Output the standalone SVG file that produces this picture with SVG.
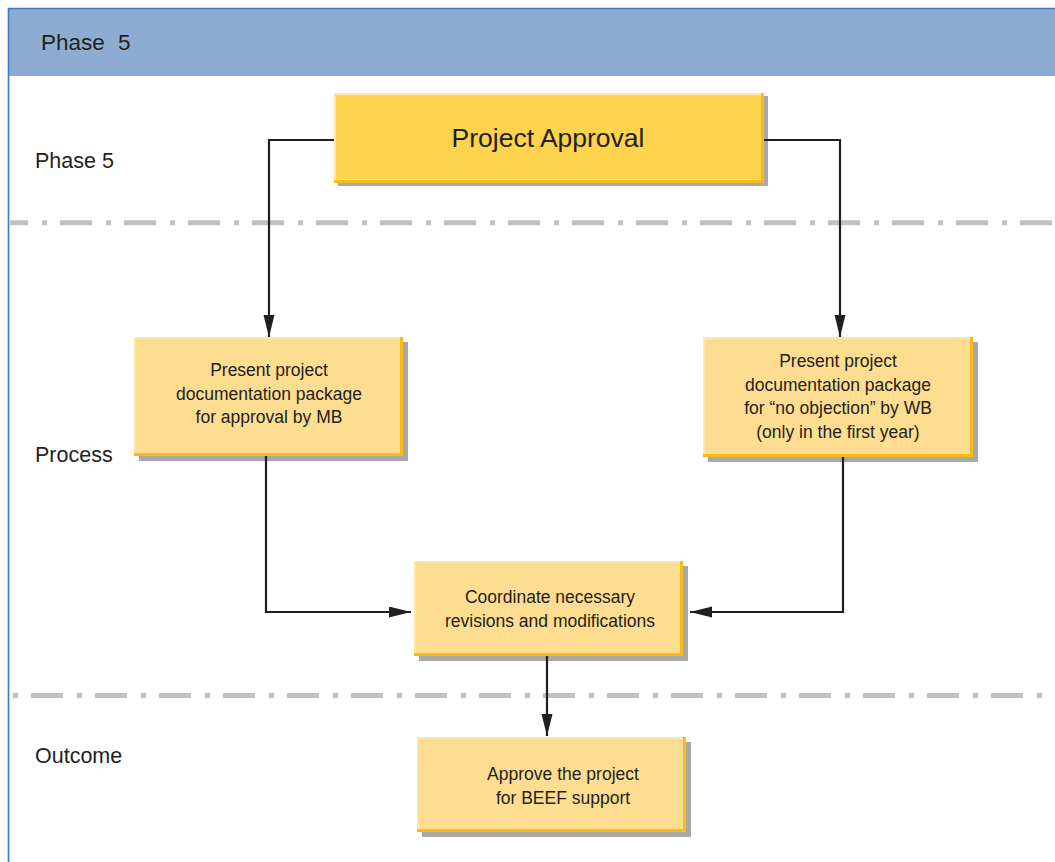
<svg xmlns="http://www.w3.org/2000/svg" width="1055" height="862" viewBox="0 0 1055 862">
<style>
.t{font-family:"Liberation Sans",Arial,sans-serif;fill:#231f20}
.bx{font-size:17.5px;text-anchor:middle}
.lbl{font-size:21.5px}
.sh{fill:#a8a8ab}
.or{fill:#fbbb16}
.hl{fill:#fee7a8}
.f1{fill:#fdd24c}
.f2{fill:#fedd90}
.div{stroke:#c1c1c5;stroke-width:5;fill:none;stroke-dasharray:32 14 5 13}
.cn{stroke:#231f20;stroke-width:2.2;fill:none;marker-end:url(#ah)}
</style>
<defs>
<marker id="ah" markerUnits="userSpaceOnUse" markerWidth="22" markerHeight="12" refX="22" refY="5.5" orient="auto">
<path d="M0,0 L22,5.5 L0,11 Z" fill="#231f20"/>
</marker>
</defs>
<rect x="0" y="0" width="1055" height="862" fill="#ffffff"/>
<g id="frame">
<rect x="9" y="9" width="1046" height="67" fill="#8eabd2"/>
<line x1="8" y1="8.5" x2="1055" y2="8.5" stroke="#3a7dc0" stroke-width="1.6"/>
<line x1="8.5" y1="8" x2="8.5" y2="862" stroke="#3a7dc0" stroke-width="1.6"/>
<text class="t" x="41" y="50" font-size="22.5px">Phase</text>
<text class="t" x="118" y="50" font-size="22.5px">5</text>
</g>
<g id="dividers">
<line class="div" x1="10" y1="222.7" x2="1055" y2="222.7" stroke-dashoffset="14"/>
<line class="div" x1="10" y1="695.5" x2="1045" y2="695.5" stroke-dashoffset="43"/>
</g>
<g id="lane-labels">
<text class="t lbl" x="35" y="168">Phase 5</text>
<text class="t lbl" x="35" y="462">Process</text>
<text class="t lbl" x="35" y="763">Outcome</text>
</g>
<g id="node-approval">
<rect class="sh" x="338" y="96" width="430" height="90"/>
<rect class="or" x="334" y="93" width="430" height="90"/>
<rect class="hl" x="334" y="93" width="427" height="87"/>
<rect class="f1" x="336" y="95" width="425" height="84"/>
<text class="t" x="548" y="147" font-size="26.5px" text-anchor="middle">Project Approval</text>
</g>
<g id="node-mb">
<rect class="sh" x="139" y="342" width="269" height="119"/>
<rect class="or" x="134" y="337" width="269" height="119"/>
<rect class="hl" x="134" y="337" width="266" height="116"/>
<rect class="f2" x="136" y="339" width="264" height="114"/>
<text class="t bx" x="269" y="376">Present project</text>
<text class="t bx" x="269" y="399.5">documentation package</text>
<text class="t bx" x="269" y="423">for approval by MB</text>
</g>
<g id="node-wb">
<rect class="sh" x="708" y="342" width="270" height="120"/>
<rect class="or" x="703" y="337" width="270" height="120"/>
<rect class="hl" x="703" y="337" width="267" height="117"/>
<rect class="f2" x="705" y="339" width="265" height="115"/>
<text class="t bx" x="838" y="367">Present project</text>
<text class="t bx" x="838" y="390.5">documentation package</text>
<text class="t bx" x="838" y="414">for “no objection” by WB</text>
<text class="t bx" x="838" y="437.5">(only in the first year)</text>
</g>
<g id="node-coordinate">
<rect class="sh" x="419" y="566" width="269" height="95"/>
<rect class="or" x="414" y="561" width="269" height="95"/>
<rect class="hl" x="414" y="561" width="266" height="92"/>
<rect class="f2" x="416" y="563" width="264" height="90"/>
<text class="t bx" x="550" y="603">Coordinate necessary</text>
<text class="t bx" x="550" y="627">revisions and modifications</text>
</g>
<g id="node-outcome">
<rect class="sh" x="422" y="742" width="269" height="95"/>
<rect class="or" x="417" y="737" width="269" height="95"/>
<rect class="hl" x="417" y="737" width="266" height="92"/>
<rect class="f2" x="419" y="739" width="264" height="90"/>
<text class="t bx" x="563" y="780">Approve the project</text>
<text class="t bx" x="563" y="803.5">for BEEF support</text>
</g>
<g id="connectors">
<path class="cn" d="M334,140 H269 V337"/>
<path class="cn" d="M764,140 H840 V337"/>
<path class="cn" d="M266,456 V612 H411"/>
<path class="cn" d="M843,457 V612 H690"/>
<path class="cn" d="M547,656 V736"/>
</g>
</svg>
